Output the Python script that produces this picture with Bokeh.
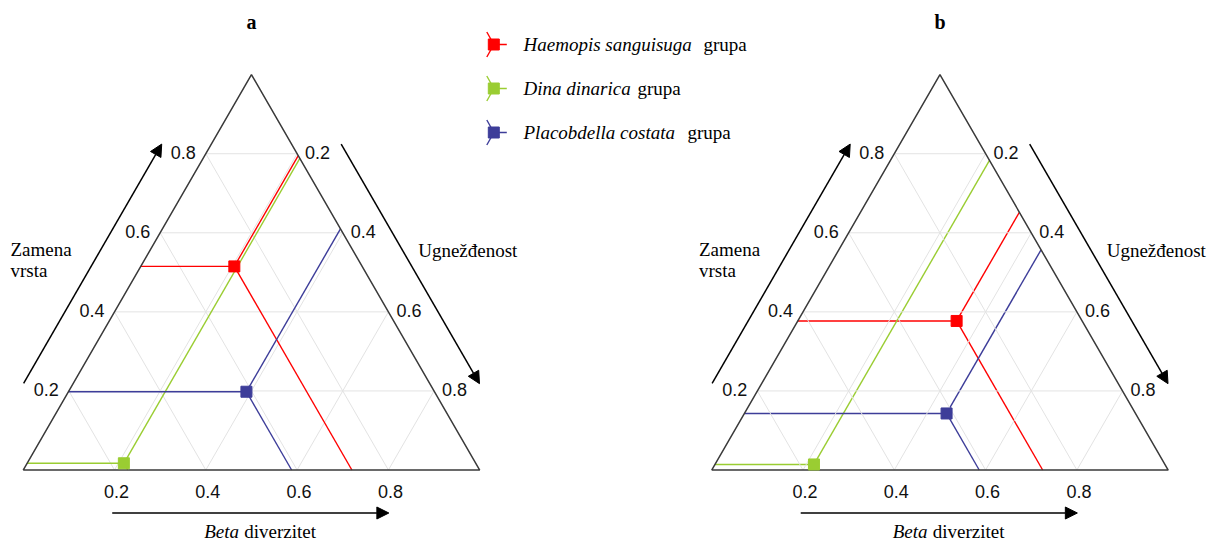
import math
from bokeh.plotting import figure
from bokeh.models import Range1d, Arrow, NormalHead
from bokeh.core.properties import value
from bokeh.embed import file_html
from bokeh.resources import INLINE

# ---------------- data ----------------
groups = ["Haemopis sanguisuga", "Dina dinarica", "Placobdella costata"]
colors = ["#FF0000", "#9ACD32", "#3D3D99"]
# panel a : species replacement (Zamena vrsta) and nestedness (Ugnežđenost)
zamena_a = [0.515, 0.017, 0.198]
ugnezdjenost_a = [0.205, 0.212, 0.390]
# panel b
zamena_b = [0.377, 0.014, 0.143]
ugnezdjenost_b = [0.348, 0.217, 0.443]
ticks = [0.2, 0.4, 0.6, 0.8]
tick_labels = ["0.2", "0.4", "0.6", "0.8"]

# ---------------- layout ----------------
W, H = 1209, 542
SIDE = 456.5
H3 = math.sqrt(3) / 2
SERIF = "Liberation Serif"
SANS = "Liberation Sans"
DY = -6  # vertical text correction

p = figure(width=W, height=H, x_range=Range1d(0, W), y_range=Range1d(H, 0),
           output_backend="svg", toolbar_location=None, min_border=0,
           x_axis_location=None, y_axis_location=None)
p.grid.visible = False
p.outline_line_color = None
p.background_fill_color = "white"


def tern(bl, z, u):
    return bl[0] + SIDE * (u + z / 2.0), bl[1] - SIDE * z * H3


def txt(xs, ys, texts, font, size, align, style="normal", baseline="alphabetic", color="black"):
    p.text(x=xs, y=[v + DY for v in ys], text=texts, text_font=value(font), text_font_size=value(f"{size}px"),
           text_align=align, text_baseline=baseline, text_font_style=style, text_color=color)


def arrow(x0, y0, x1, y1):
    p.add_layout(Arrow(end=NormalHead(size=12, fill_color="black", line_color="black", line_width=1),
                       x_start=x0, y_start=y0, x_end=x1, y_end=y1,
                       line_color="black", line_width=1.5))


def grid(bl):
    x0, y0, x1, y1 = [], [], [], []
    for v in ticks:
        for (za, ua, zb, ub) in [(v, 0, v, 1 - v), (0, v, 1 - v, v), (0, 1 - v, 1 - v, 0)]:
            a = tern(bl, za, ua)
            b = tern(bl, zb, ub)
            x0.append(a[0]); y0.append(a[1]); x1.append(b[0]); y1.append(b[1])
    p.segment(x0=x0, y0=y0, x1=x1, y1=y1, line_color="#E3E3E3", line_width=1)


def panel(label, bl, zam, ugn, grid_on_top):
    if not grid_on_top:
        grid(bl)
    # data projection lines
    for z, u, c in zip(zam, ugn, colors):
        pt = tern(bl, z, u)
        ends = [tern(bl, z, 0), tern(bl, 1 - u, u), tern(bl, 0, u + z)]
        p.segment(x0=[pt[0]] * 3, y0=[pt[1]] * 3, x1=[e[0] for e in ends], y1=[e[1] for e in ends],
                  line_color=c, line_width=1.4)
    if grid_on_top:
        grid(bl)
    # triangle outline
    corners = [tern(bl, 0, 0), tern(bl, 0, 1), tern(bl, 1, 0), tern(bl, 0, 0)]
    p.line(x=[c[0] for c in corners], y=[c[1] for c in corners], line_color="#3A3A3A", line_width=1.5)
    # markers
    pts = [tern(bl, z, u) for z, u in zip(zam, ugn)]
    p.scatter(x=[q[0] for q in pts], y=[q[1] for q in pts], marker="square", size=11,
              fill_color=colors, line_color=colors)
    # tick labels
    lx, ly, rx, ry, bx, by = [], [], [], [], [], []
    for v in ticks:
        q = tern(bl, v, 0)
        lx.append(q[0] - 10); ly.append(q[1] + 4.5)
        q = tern(bl, 1 - v, v)
        rx.append(q[0] + 8); ry.append(q[1] + 4.5)
        q = tern(bl, 0, v)
        bx.append(q[0] + 2); by.append(q[1] + 27)
    txt(lx, ly, tick_labels, SANS, 18, "right", color="#111111")
    txt(rx, ry, tick_labels, SANS, 18, "left", color="#111111")
    txt(bx, by, tick_labels, SANS, 18, "center", color="#111111")
    # axis arrows
    OFF = 43
    top = tern(bl, 1, 0)
    br = tern(bl, 0, 1)
    def on_left(t):
        return (bl[0] + t * (top[0] - bl[0]) - OFF * H3, bl[1] + t * (top[1] - bl[1]) - OFF * 0.5)
    def on_right(t):
        return (top[0] + t * (br[0] - top[0]) + OFF * H3, top[1] + t * (br[1] - top[1]) - OFF * 0.5)
    a0, a1 = on_left(0.165), on_left(0.77)
    arrow(a0[0], a0[1], a1[0], a1[1])
    a0, a1 = on_right(0.23), on_right(0.836)
    arrow(a0[0], a0[1], a1[0], a1[1])
    arrow(bl[0] + 0.195 * SIDE, bl[1] + OFF, bl[0] + 0.801 * SIDE, bl[1] + OFF)
    # axis titles
    txt([bl[0] - 12.7], [255], ["Zamena"], SERIF, 19, "left")
    txt([bl[0] - 12.7], [276], ["vrsta"], SERIF, 19, "left")
    txt([bl[0] + 395], [256], ["Ugnežđenost"], SERIF, 19, "left")
    txt([bl[0] + 181], [537], ["Beta"], SERIF, 19, "left", style="italic")
    txt([bl[0] + 221], [537], ["diverzitet"], SERIF, 19, "left")
    # panel letter
    txt([top[0]], [27], [label], SERIF, 20, "center", style="bold")


panel("a", (22.7, 469.5), zamena_a, ugnezdjenost_a, False)
panel("b", (711.2, 469.5), zamena_b, ugnezdjenost_b, True)

# ---------------- legend ----------------
LEG_X = 493.3
LEG_Y = [44, 88, 132]
grupa_x = [703, 637, 687]
for y, c, g, gx in zip(LEG_Y, colors, groups, grupa_x):
    p.segment(x0=[LEG_X] * 3, y0=[y] * 3, x1=[LEG_X + 13, LEG_X - 7, LEG_X - 7],
              y1=[y, y - 12.5, y + 12.5], line_color=c, line_width=1.4)
    p.scatter(x=[LEG_X], y=[y], marker="square", size=11, fill_color=c, line_color=c)
    txt([523], [y + 6], [g], SERIF, 19, "left", style="italic")
    txt([gx], [y + 6], ["grupa"], SERIF, 19, "left")

open("out.html", "w").write(file_html(p, INLINE))
